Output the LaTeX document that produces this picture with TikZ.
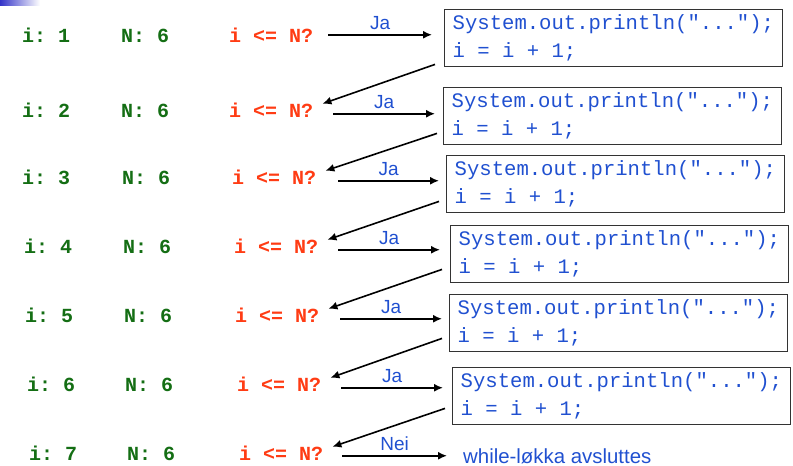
\documentclass[tikz,border=0pt]{standalone}
\usepackage{fontspec}
\setmainfont{Liberation Sans}
\newfontfamily\monofont{Liberation Mono}
\newcommand\MS{\hbox to 0.6em{}}
\usetikzlibrary{arrows.meta,calc}
\definecolor{vgreen}{HTML}{146E14}
\definecolor{qred}{HTML}{FF3C14}
\definecolor{cblue}{HTML}{2050D0}
\definecolor{barblue}{HTML}{3434C8}
\begin{document}
\begin{tikzpicture}[x=1pt,y=-1pt,
  var/.style={font=\fontsize{20}{24}\selectfont\monofont\bfseries, text=vgreen, anchor=base west, inner sep=0pt},
  cond/.style={font=\fontsize{20}{24}\selectfont\monofont\bfseries, text=qred, anchor=base west, inner sep=0pt},
  codebox/.style={draw=black!80, line width=1.4pt, anchor=north west, minimum height=57pt,
    text width=322pt, inner xsep=8pt, inner ysep=0pt, align=left,
    font=\fontsize{20.6}{28}\selectfont\monofont, text=cblue},
  lbl/.style={font=\fontsize{19}{22}\selectfont, text=cblue, inner sep=0pt, anchor=south, yshift=4pt},
  arr/.style={line width=1.6pt, -{Latex[length=9pt,width=8pt]}}
]
\useasboundingbox (0,0) rectangle (793,466);
\shade[left color=barblue, right color=white] (0,0) rectangle (40,5);

% rows
\node[var] (i1) at (22,42) {i:\MS1};
\node[var] (n1) at (121,42) {N:\MS6};
\node[cond] (q1) at (229,42) {i\MS<=\MS N?};
\node[var] (i2) at (22,117) {i:\MS2};
\node[var] (n2) at (121,117) {N:\MS6};
\node[cond] (q2) at (229,117) {i\MS<=\MS N?};
\node[var] (i3) at (22,184) {i:\MS3};
\node[var] (n3) at (122,184) {N:\MS6};
\node[cond] (q3) at (232,184) {i\MS<=\MS N?};
\node[var] (i4) at (24,253) {i:\MS4};
\node[var] (n4) at (123,253) {N:\MS6};
\node[cond] (q4) at (234,253) {i\MS<=\MS N?};
\node[var] (i5) at (25,322) {i:\MS5};
\node[var] (n5) at (124,322) {N:\MS6};
\node[cond] (q5) at (235,322) {i\MS<=\MS N?};
\node[var] (i6) at (27,391) {i:\MS6};
\node[var] (n6) at (125,391) {N:\MS6};
\node[cond] (q6) at (237,391) {i\MS<=\MS N?};
\node[var] (i7) at (29,460) {i:\MS7};
\node[var] (n7) at (127,460) {N:\MS6};
\node[cond] (q7) at (239,460) {i\MS<=\MS N?};

% code boxes
\node[codebox] (b1) at (444,9) {System.out.println("...");\\i\MS=\MS i\MS+\MS1;};
\node[codebox] (b2) at (443,87) {System.out.println("...");\\i\MS=\MS i\MS+\MS1;};
\node[codebox] (b3) at (446,155) {System.out.println("...");\\i\MS=\MS i\MS+\MS1;};
\node[codebox] (b4) at (450,225) {System.out.println("...");\\i\MS=\MS i\MS+\MS1;};
\node[codebox] (b5) at (449,294) {System.out.println("...");\\i\MS=\MS i\MS+\MS1;};
\node[codebox] (b6) at (452,367) {System.out.println("...");\\i\MS=\MS i\MS+\MS1;};

\node[font=\fontsize{20.4}{22}\selectfont, text=cblue, anchor=west, inner sep=0pt] (end) at (463,456) {while-løkka avsluttes};

% Ja arrows
\draw[arr] ($(q1.east)+(15,0)$) -- node[lbl]{Ja} ($(q1.east -| b1.west)+(-12,0)$);
\draw[arr] ($(q2.east)+(20,4)$) -- node[lbl]{Ja} ($(q2.east -| b2.west)+(-8,4)$);
\draw[arr] ($(q3.east)+(22,4)$) -- node[lbl]{Ja} ($(q3.east -| b3.west)+(-7,4)$);
\draw[arr] ($(q4.east)+(20,4)$) -- node[lbl]{Ja} ($(q4.east -| b4.west)+(-10,4)$);
\draw[arr] ($(q5.east)+(21,4)$) -- node[lbl]{Ja} ($(q5.east -| b5.west)+(-7,4)$);
\draw[arr] ($(q6.east)+(20,4)$) -- node[lbl]{Ja} ($(q6.east -| b6.west)+(-9,4)$);
\draw[arr] ($(q7.east)+(19,3)$) -- node[lbl]{Nei} ($(q7.east -| end.west)+(-16,3)$);

% return arrows
\draw[arr] ($(b1.south west)+(-9,-3)$) -- ($(q2.east)+(9,-6)$);
\draw[arr] ($(b2.south west)+(-6,-12)$) -- ($(q3.east)+(9,-6)$);
\draw[arr] ($(b3.south west)+(-7,-12)$) -- ($(q4.east)+(9,-6)$);
\draw[arr] ($(b4.south west)+(-8,-14)$) -- ($(q5.east)+(9,-6)$);
\draw[arr] ($(b5.south west)+(-7,-14)$) -- ($(q6.east)+(9,-6)$);
\draw[arr] ($(b6.south west)+(-7,-17)$) -- ($(q7.east)+(9,-6)$);
\end{tikzpicture}
\end{document}
